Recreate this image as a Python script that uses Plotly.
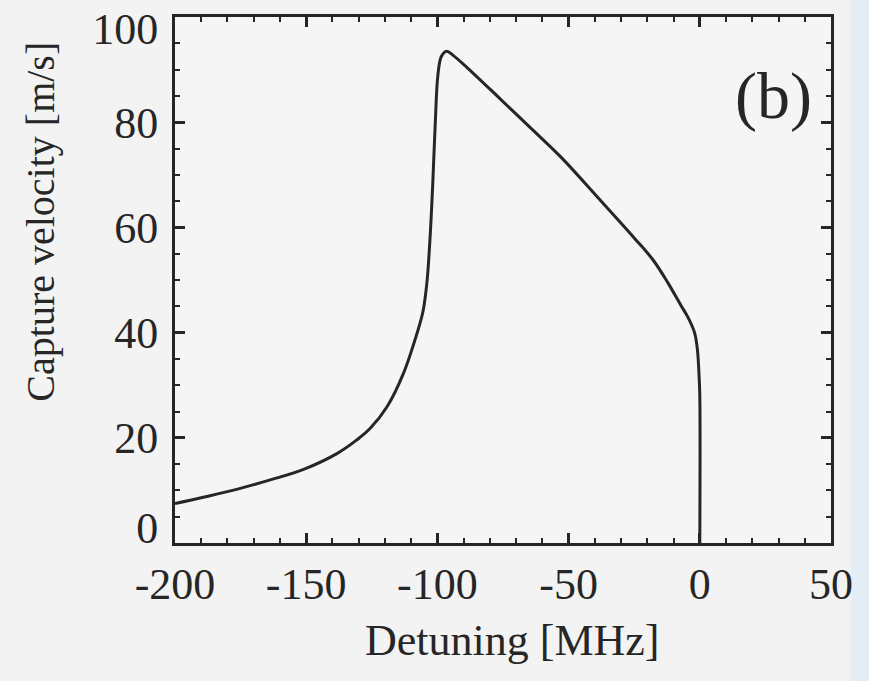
import plotly.graph_objects as go

# ---- data ----
detuning_mhz = [-200, -189.2, -176.5, -163.7, -151, -138.3, -130.7, -125.6, -119.2,
                -112.9, -107.8, -105.5, -104, -102.8, -101.8, -100.8, -99.8, -98.5,
                -96.5, -94, -88.5, -76, -63.4, -53, -38, -25, -17.8, -12.2, -7,
                -4.6, -2, -0.9, -0.3, 0, 0]
capture_velocity = [7.5, 8.7, 10.2, 12.0, 14.0, 17.0, 19.6, 21.8, 25.9,
                    32.3, 39.8, 44.0, 49.5, 58.0, 68.0, 80.0, 89.0, 92.5,
                    93.5, 92.7, 90.3, 84.4, 78.4, 73.4, 65.2, 58.0, 53.8, 49.5,
                    45.0, 43.0, 40.0, 36.7, 32.0, 28.0, 0.0]

x_tick_vals = [-200, -150, -100, -50, 0, 50]
x_tick_text = ["-200", "-150", "-100", "-50", "0", "50"]
y_tick_vals = [0, 20, 40, 60, 80, 100]
y_tick_text = ["0", "20", "40", "60", "80", "100"]

x_title = "Detuning [MHz]"
y_title = "Capture velocity [m/s]"
panel_label = "(b)"

FONT = "Liberation Serif"
INK = "#262626"
BG = "#f3f3f3"

W, H = 869, 681
M = dict(l=175, r=38, t=17, b=138)
Y_RANGE = [0, 100]
X_RANGE = [-200, 50]

# end labels of the y axis sit slightly inside the frame in the reference (in px)
plot_h = H - M["t"] - M["b"]
px_per_unit = plot_h / (Y_RANGE[1] - Y_RANGE[0])
label_nudge_px = {Y_RANGE[0]: 15, Y_RANGE[1]: -12}
y_label_pos = [v + label_nudge_px.get(v, 0) / px_per_unit for v in y_tick_vals]

fig = go.Figure()
fig.add_trace(go.Scatter(
    x=detuning_mhz, y=capture_velocity, mode="lines",
    line=dict(color=INK, width=3, shape="spline", smoothing=1.0),
    hoverinfo="skip", showlegend=False,
))
# empty trace so that the label-only axis is drawn
fig.add_trace(go.Scatter(x=[], y=[], yaxis="y2", mode="lines",
                         hoverinfo="skip", showlegend=False))

tickfont = dict(family=FONT, size=44, color=INK)
axis_common = dict(
    showgrid=False, zeroline=False, showline=True, linecolor=INK, linewidth=3,
    mirror="ticks", ticks="inside", ticklen=10, tickwidth=2.5, tickcolor=INK,
    tickfont=tickfont, ticklabeloverflow="allow", automargin=False,
)

fig.update_layout(
    xaxis=dict(
        range=X_RANGE, tickmode="array", tickvals=x_tick_vals, ticktext=x_tick_text,
        minor=dict(dtick=10, ticks="inside", ticklen=5, tickwidth=2, tickcolor=INK),
        **axis_common,
    ),
    yaxis=dict(
        range=Y_RANGE, tickmode="array", tickvals=y_tick_vals, showticklabels=False,
        minor=dict(dtick=5, ticks="inside", ticklen=5, tickwidth=2, tickcolor=INK),
        **axis_common,
    ),
    # label-only axis sharing the same scale
    yaxis2=dict(
        overlaying="y", anchor="x", side="left", range=Y_RANGE,
        tickmode="array", tickvals=y_label_pos, ticktext=y_tick_text,
        ticks="outside", ticklen=7, tickcolor="rgba(0,0,0,0)",
        showline=False, showgrid=False, zeroline=False,
        tickfont=tickfont, ticklabeloverflow="allow", automargin=False,
    ),
)

fig.add_annotation(
    text=x_title, xref="paper", yref="paper", x=0.515, y=-0.185,
    xanchor="center", yanchor="middle", showarrow=False,
    font=dict(family=FONT, size=44, color=INK),
)
fig.add_annotation(
    text=y_title, xref="paper", yref="paper", x=-0.205, y=0.61,
    xanchor="center", yanchor="middle", textangle=-90, showarrow=False,
    font=dict(family=FONT, size=40, color=INK),
)
fig.add_annotation(
    text=panel_label, xref="paper", yref="paper", x=0.912, y=0.85,
    xanchor="center", yanchor="middle", showarrow=False,
    font=dict(family=FONT, size=66, color=INK),
)

# faint blue strip at the right edge of the scan
fig.add_shape(type="rect", xref="paper", yref="paper", x0=1.03, x1=1.06, y0=-0.3, y1=1.04,
              fillcolor="#e2edf5", line=dict(width=0), layer="below")

fig.update_layout(
    width=W, height=H, margin=M,
    paper_bgcolor=BG, plot_bgcolor="#f5f5f5",
)

fig.write_html(
    "out.html",
    config={"displayModeBar": False},
    post_script="document.body.style.margin='0';document.body.style.background='%s';" % BG,
)
